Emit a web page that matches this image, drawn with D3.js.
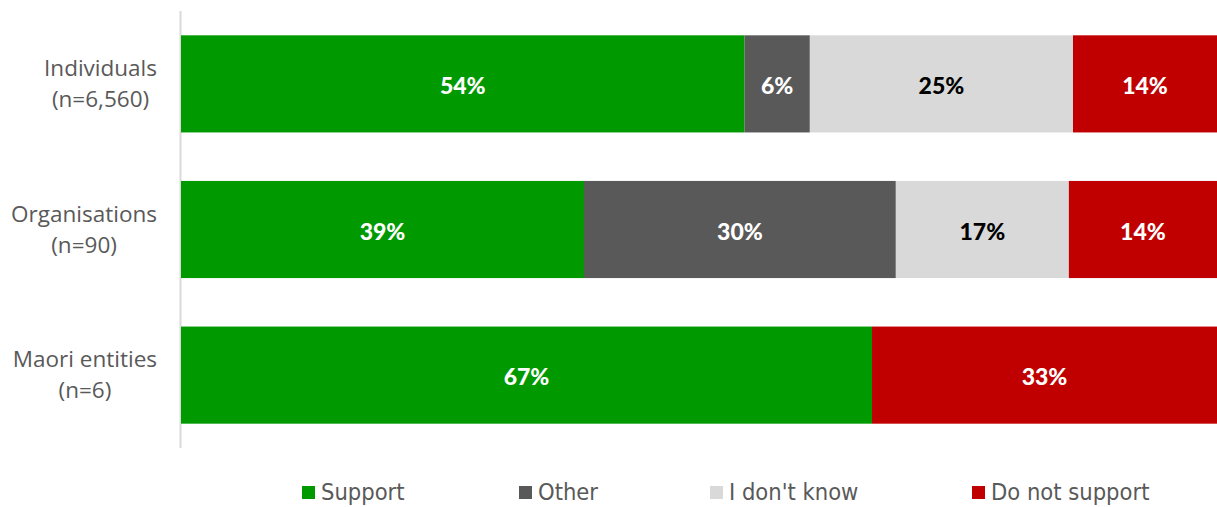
<!DOCTYPE html>
<html>
<head>
<meta charset="utf-8">
<script src="https://cdn.jsdelivr.net/npm/d3@7"></script>
<style>
  body { margin: 0; background: #fff; }
  svg { display: block; }
</style>
</head>
<body>
<div id="chart"></div>
<script>
// data (values in %, labels are rounded)
var categories = ["Individuals", "Organisations", "Maori entities"];
var sampleSizes = ["(n=6,560)", "(n=90)", "(n=6)"];
var seriesNames = ["Support", "Other", "I don't know", "Do not support"];
var support = [54.4, 38.9, 66.7];
var other = [6.3, 30.1, 0];
var dontKnow = [25.4, 16.7, 0];
var notSupport = [13.9, 14.3, 33.3];

var colors = ["#009900", "#595959", "#d9d9d9", "#c00000"];
var labelColors = ["#fff", "#fff", "#000", "#fff"];

var width = 1217, height = 507;

var svg = d3.select("#chart")
  .append("svg")
  .attr("width", width)
  .attr("height", height);

var rows = categories.map(function(c, i) {
  return { cat: c, n: sampleSizes[i], Support: support[i], Other: other[i],
           "I don't know": dontKnow[i], "Do not support": notSupport[i] };
});

var stack = d3.stack().keys(seriesNames);
var layers = stack(rows);

var x = d3.scaleLinear().domain([0, 100]).range([181, 1217]);
var y = d3.scaleBand().domain(categories).range([11, 448])
  .paddingInner(0.333).paddingOuter(0.167);

// axis line
svg.append("line")
  .attr("x1", 180.5).attr("x2", 180.5)
  .attr("y1", 11).attr("y2", 448)
  .attr("stroke", "#d9d9d9")
  .attr("stroke-width", 2);

// bars
var g = svg.selectAll("g.layer")
  .data(layers)
  .enter().append("g")
  .attr("class", "layer")
  .attr("fill", function(d, i) { return colors[i]; });

g.selectAll("rect")
  .data(function(d) { return d.filter(function(p) { return p[1] - p[0] > 0; }); })
  .enter().append("rect")
  .attr("x", function(d) { return x(d[0]); })
  .attr("y", function(d) { return y(d.data.cat); })
  .attr("width", function(d) { return x(d[1]) - x(d[0]); })
  .attr("height", y.bandwidth());

// value labels
layers.forEach(function(layer, li) {
  svg.selectAll(null)
    .data(layer.filter(function(p) { return p[1] - p[0] > 0; }))
    .enter().append("text")
    .attr("x", function(d) { return (x(d[0]) + x(d[1])) / 2; })
    .attr("y", function(d) { return y(d.data.cat) + y.bandwidth() / 2 + 1; })
    .attr("text-anchor", "middle")
    .attr("dominant-baseline", "central")
    .attr("font-family", "Lato, Roboto, sans-serif")
    .attr("font-weight", 900)
    .attr("font-size", "23px")
    .attr("fill", labelColors[li])
    .text(function(d) { return Math.round(d[1] - d[0]) + "%"; });
});

// category labels, block right-aligned, lines centred in the block
var labelRight = 157;
rows.forEach(function(r) {
  var cy = y(r.cat) + y.bandwidth() / 2;
  var t = svg.append("text")
    .attr("font-family", "'Open Sans', 'Noto Sans', sans-serif")
    .attr("font-size", "22.5px")
    .attr("fill", "#595959")
    .attr("text-anchor", "middle");
  var l1 = t.append("tspan").text(r.cat).attr("y", cy - 8);
  var l2 = t.append("tspan").text(r.n).attr("y", cy + 23);
  var w = Math.max(l1.node().getComputedTextLength(), l2.node().getComputedTextLength());
  l1.attr("x", labelRight - w / 2);
  l2.attr("x", labelRight - w / 2);
});

// legend
var legendX = [302, 519, 710, 972];
var legend = svg.selectAll("g.legend")
  .data(seriesNames)
  .enter().append("g")
  .attr("class", "legend")
  .attr("transform", function(d, i) { return "translate(" + legendX[i] + ",486)"; });

legend.append("rect")
  .attr("width", 13).attr("height", 13)
  .attr("fill", function(d, i) { return colors[i]; });

legend.append("text")
  .attr("x", 19)
  .attr("y", 14)
  .attr("font-family", "'Liberation Sans Narrow', 'DejaVu Sans Condensed', sans-serif")
  .attr("font-size", "23.5px")
  .attr("fill", "#595959")
  .text(function(d) { return d; });
</script>
</body>
</html>
